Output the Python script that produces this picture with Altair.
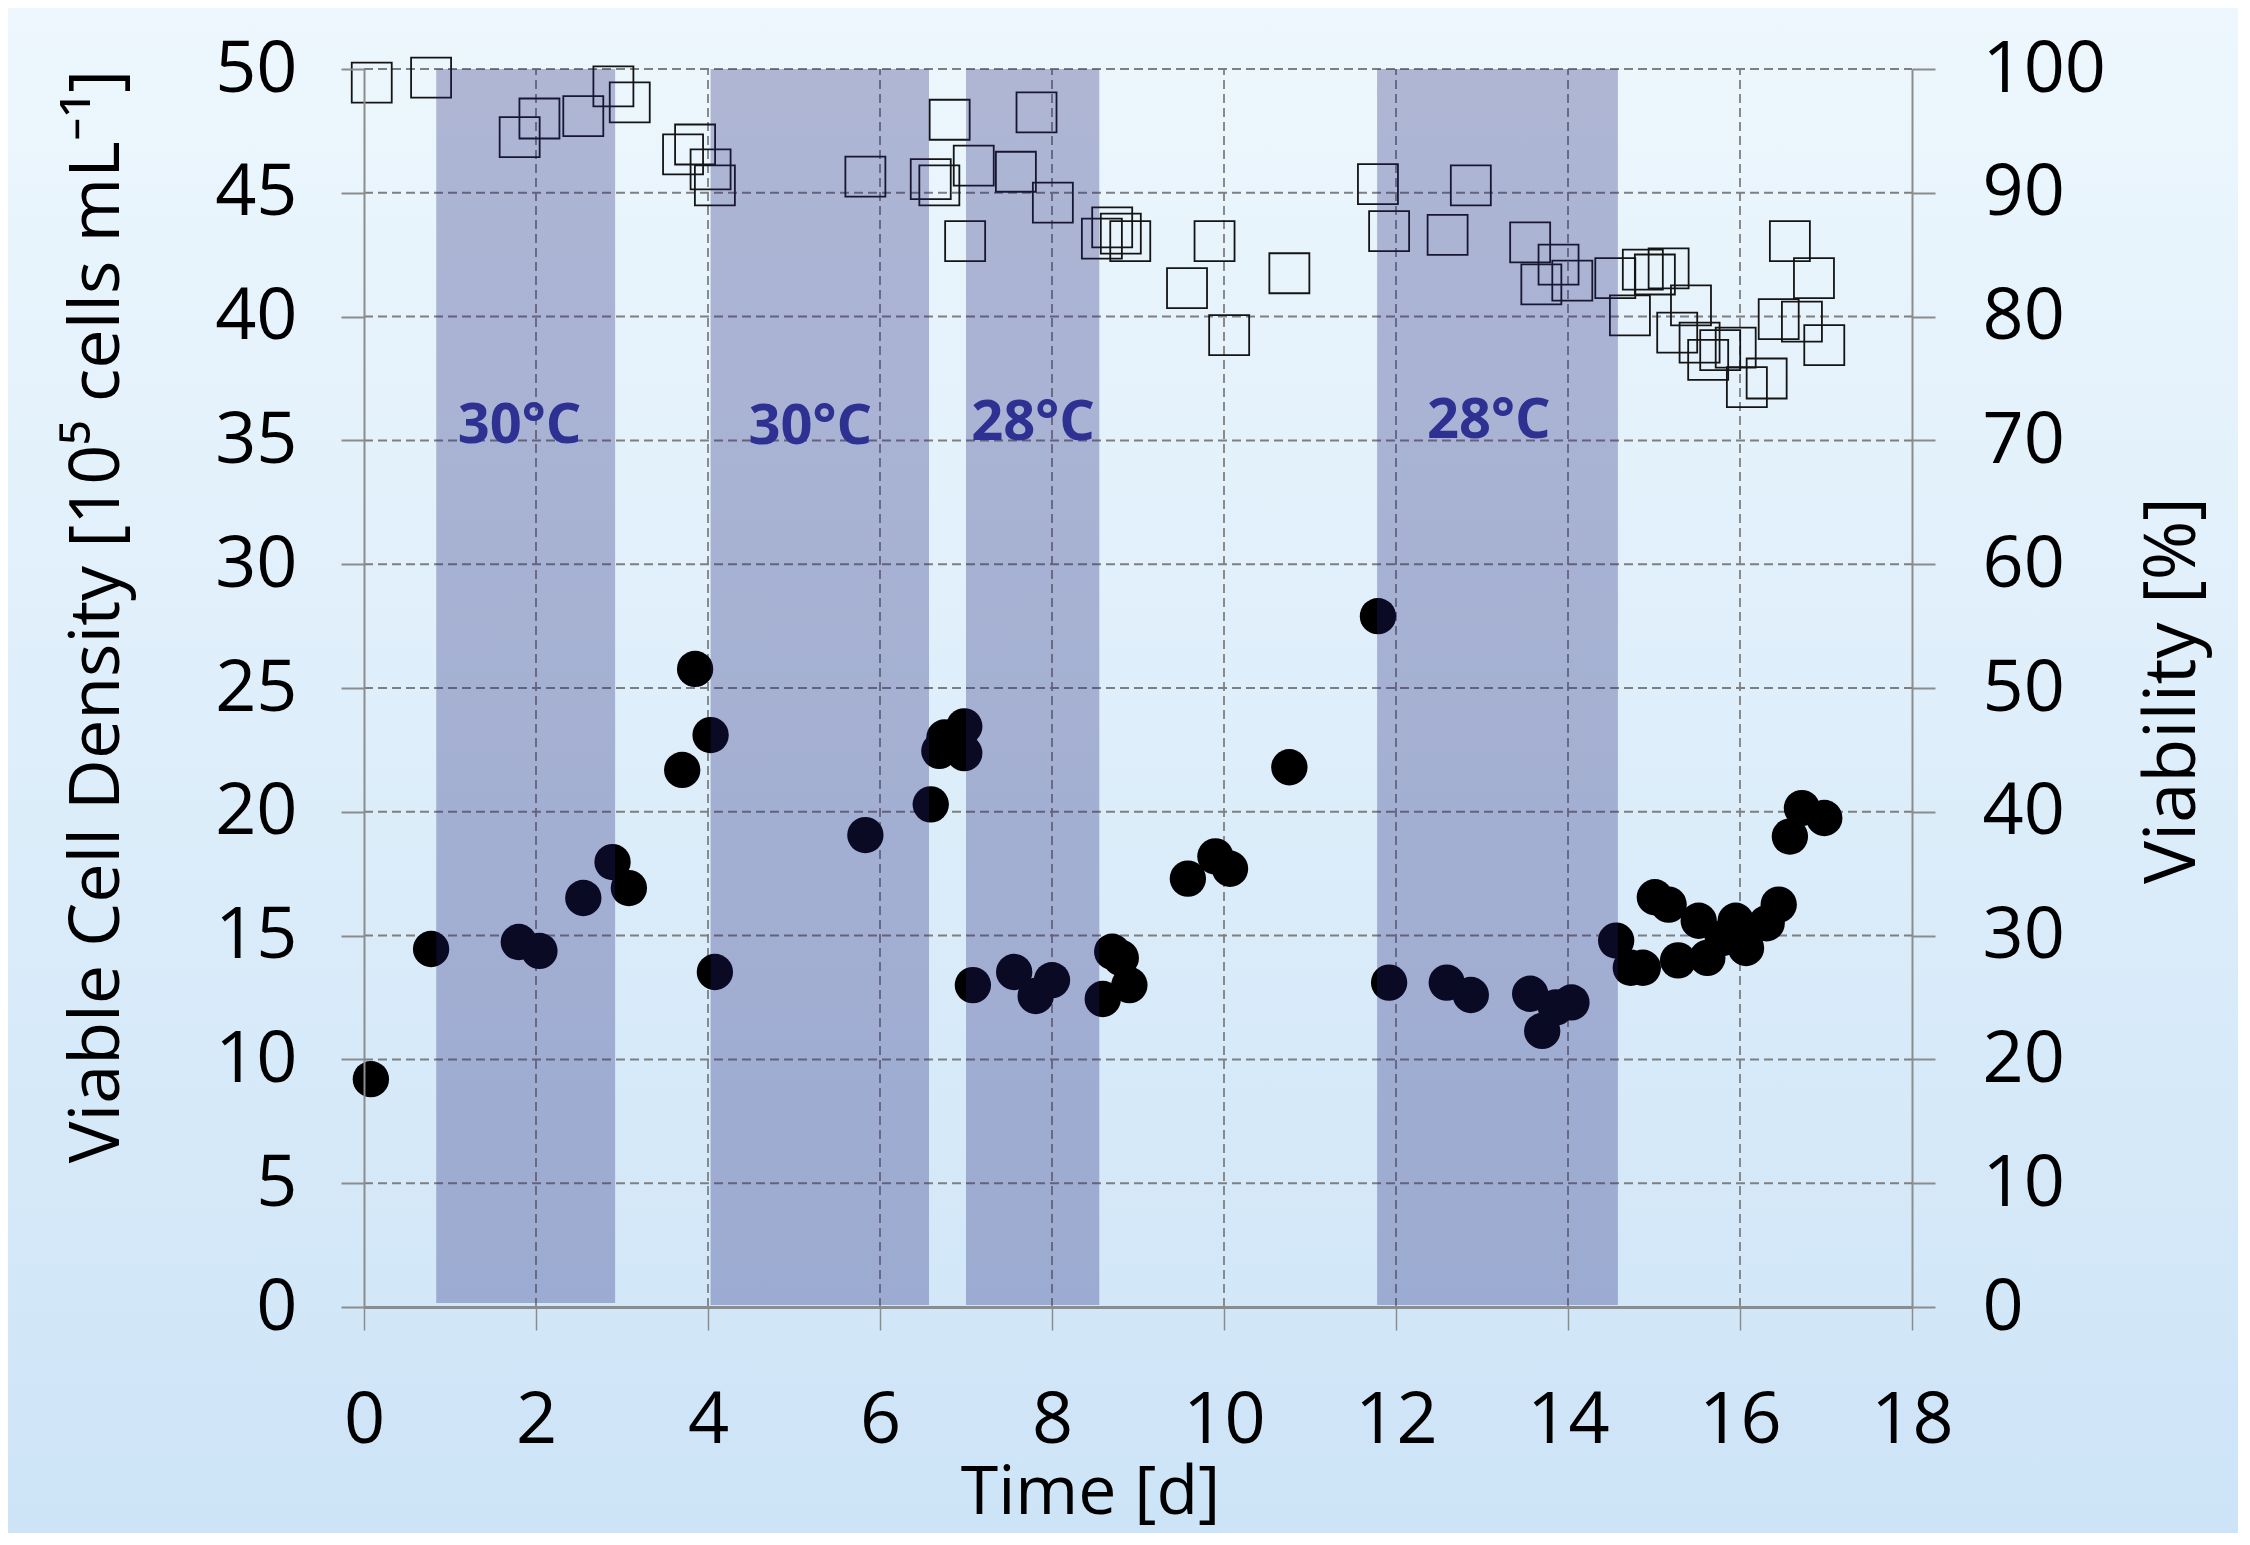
import altair as alt
import pandas as pd

# ---------------- data ----------------
vcd_day = [0.08, 0.78, 1.80, 2.04, 2.55, 2.89, 3.08, 3.70, 3.85, 4.03, 4.08,
           5.83, 6.59, 6.69, 6.75, 6.98, 6.98, 7.08, 7.56, 7.81, 8.00,
           8.59, 8.70, 8.80, 8.90, 9.58, 9.90, 10.07, 10.76, 11.79, 11.92,
           12.59, 12.87, 13.56, 13.70, 13.86, 14.04, 14.56, 14.73, 14.87,
           15.01, 15.17, 15.28, 15.52, 15.62, 15.80, 15.95, 16.07, 16.31,
           16.45, 16.58, 16.72, 16.98]
vcd_val = [9.2, 14.46, 14.74, 14.38, 16.52, 17.97, 16.92, 21.69, 25.77, 23.1, 13.53,
           19.06, 20.3, 22.46, 23.0, 23.45, 22.37, 13.0, 13.53, 12.56, 13.2,
           12.44, 14.35, 14.1, 13.0, 17.3, 18.2, 17.7, 21.8, 27.9, 13.1,
           13.1, 12.6, 12.65, 11.15, 12.1, 12.3, 14.8, 13.7, 13.7,
           16.55, 16.25, 14.0, 15.6, 14.1, 14.9, 15.6, 14.5, 15.5,
           16.25, 19.0, 20.15, 19.75]

via_day = [0.09, 0.78, 1.81, 2.04, 2.55, 2.90, 3.09, 3.71, 3.85, 4.03, 4.08,
           5.83, 6.59, 6.69, 6.81, 6.99, 7.09, 7.58, 7.82, 8.01,
           8.58, 8.70, 8.80, 8.91, 9.57, 9.89, 10.06, 10.76, 11.79, 11.92,
           12.60, 12.87, 13.56, 13.69, 13.89, 14.05, 14.55, 14.72, 14.87,
           15.01, 15.17, 15.27, 15.43, 15.53, 15.63, 15.77, 15.95, 16.08,
           16.31, 16.45, 16.58, 16.72, 16.86, 16.98]
via_val = [98.9, 99.3, 94.5, 96.0, 96.2, 98.6, 97.3, 93.1, 93.9, 91.9, 90.6,
           91.3, 91.1, 90.6, 95.9, 86.1, 92.2, 91.7, 96.5, 89.2,
           86.3, 87.2, 86.7, 86.1, 82.3, 86.1, 78.5, 83.5, 90.7, 86.9,
           86.6, 90.6, 86.0, 82.6, 84.2, 82.9, 83.1, 80.1, 83.8,
           83.4, 83.9, 78.7, 80.9, 77.9, 76.5, 77.3, 77.5, 74.3,
           75.0, 79.8, 86.1, 79.6, 83.1, 77.7]

band_start = [0.84, 4.03, 7.00, 11.78]
band_end = [2.92, 6.57, 8.55, 14.58]
band_bottom = [0.16, 0.08, 0.08, 0.08]
band_top = [50, 50, 50, 50]
band_label = ["30°C", "30°C", "28°C", "28°C"]
label_day = [1.81, 5.19, 7.78, 13.08]
label_y = [34.9, 34.85, 35.0, 35.1]

x_ticks = list(range(0, 19, 2))
y_left_ticks = list(range(0, 51, 5))
y_right_ticks = list(range(0, 101, 10))

# ---------------- layout ----------------
W, H = 1548, 1238
PAD = {"left": 356, "top": 61, "right": 326, "bottom": 226}
FONT = "Open Sans"
AX = "#8c8c8c"
GRID = "#7f7f7f"

xscale = alt.Scale(domain=[0, 18], nice=False, zero=False)
yl = alt.Scale(domain=[0, 50], nice=False)
yr = alt.Scale(domain=[0, 100], nice=False)

df_vcd = pd.DataFrame({"day": vcd_day, "vcd": vcd_val})
df_via = pd.DataFrame({"day": via_day, "via": via_val})
df_band = pd.DataFrame({"s": band_start, "e": band_end, "b": band_bottom, "t": band_top})
df_lab = pd.DataFrame({"d": label_day, "y": label_y, "txt": band_label})
df_hg = pd.DataFrame({"y": [v for v in y_left_ticks if v > 0]})
df_vg = pd.DataFrame({"x": [v for v in x_ticks if 0 < v < 18]})

grad = alt.Gradient(
    gradient="linear",
    stops=[alt.GradientStop(color="#edf7fd", offset=0),
           alt.GradientStop(color="#cde4f7", offset=1)],
    x1=0, x2=0, y1=0, y2=1,
)

bg = alt.Chart(pd.DataFrame({"k": [0]})).mark_rect(fill=grad, clip=False).encode(
    x=alt.value(-PAD["left"]), x2=alt.value(W + PAD["right"]),
    y=alt.value(-PAD["top"]), y2=alt.value(H + PAD["bottom"]),
)

hgrid = alt.Chart(df_hg).mark_rule(color=GRID, strokeWidth=2, strokeDash=[9, 5]).encode(
    y=alt.Y("y:Q", scale=yl, axis=None),
    x=alt.X(datum=0, scale=xscale, axis=None),
    x2=alt.X2(datum=18),
)

vgrid = alt.Chart(df_vg).mark_rule(color=GRID, strokeWidth=1.8, strokeDash=[9, 5]).encode(
    x=alt.X("x:Q", scale=xscale, axis=None),
    y=alt.Y(datum=0, scale=yl, axis=None),
    y2=alt.Y2(datum=50),
)

x_axis = alt.Axis(
    orient="bottom", values=x_ticks, title="Time [d]", grid=False,
    domainColor=AX, domainWidth=3, tickColor=AX, tickWidth=1.5, tickSize=23,
    labelFont=FONT, labelFontSize=72, labelColor="black", labelPadding=112,
    labelBaseline="alphabetic", labelFlush=False, labelOverlap=False,
    titleFont=FONT, titleFontSize=68, titleFontWeight="normal", titleColor="black",
    titleX=726, titleY=206, titleAlign="center", titleBaseline="alphabetic",
    zindex=1,
)

yl_axis = alt.Axis(
    orient="left", values=y_left_ticks, title="Viable Cell Density [10⁵ cells mL⁻¹]", grid=False,
    domainColor=AX, domainWidth=2, tickColor=AX, tickWidth=2, tickSize=23,
    labelFont=FONT, labelFontSize=72, labelColor="black", labelPadding=44,
    labelBaseline="middle", labelFlush=False, labelOverlap=False,
    titleFont=FONT, titleFontSize=70, titleFontWeight="normal", titleColor="black",
    titleAngle=270, titleX=-246, titleY=547, titleAlign="center",
    titleBaseline="alphabetic", zindex=1,
)

yr_axis = alt.Axis(
    orient="right", values=y_right_ticks, title="Viability [%]", grid=False,
    domainColor=AX, domainWidth=2, tickColor=AX, tickWidth=2, tickSize=23,
    labelFont=FONT, labelFontSize=72, labelColor="black", labelPadding=47,
    labelBaseline="middle", labelFlush=False, labelOverlap=False,
    titleFont=FONT, titleFontSize=72, titleFontWeight="normal", titleColor="black",
    titleAngle=270, titleX=282, titleY=621, titleAlign="center",
    titleBaseline="alphabetic", zindex=1,
)

points = alt.Chart(df_vcd).mark_circle(size=1320, color="#000000", opacity=1).encode(
    x=alt.X("day:Q", scale=xscale, axis=x_axis),
    y=alt.Y("vcd:Q", scale=yl, axis=yl_axis),
)

squares = alt.Chart(df_via).mark_point(
    shape="square", filled=False, size=1600, color="#141414", strokeWidth=1.8, opacity=1
).encode(
    x=alt.X("day:Q", scale=xscale, axis=None),
    y=alt.Y("via:Q", scale=yr, axis=yr_axis),
)

bands = alt.Chart(df_band).mark_rect(color="#222276", opacity=0.3).encode(
    x=alt.X("s:Q", scale=xscale, axis=None), x2="e:Q",
    y=alt.Y("b:Q", scale=yl, axis=None), y2="t:Q",
)

labels = alt.Chart(df_lab).mark_text(
    font=FONT, fontSize=56, fontWeight="bold", color="#2e3192",
    baseline="alphabetic", align="center",
).encode(
    x=alt.X("d:Q", scale=xscale, axis=None),
    y=alt.Y("y:Q", scale=yl, axis=None),
    text="txt:N",
)

chart = alt.layer(bg, hgrid, vgrid, points, squares, bands, labels).resolve_scale(
    y="independent"
).resolve_axis(
    x="independent"
).properties(
    width=W, height=H, padding=PAD,
    autosize=alt.AutoSizeParams(type="none"),
    background="#dcedf9",
).configure_view(stroke=None)

chart.save("out.html", embed_options={"renderer": "svg", "actions": False})
